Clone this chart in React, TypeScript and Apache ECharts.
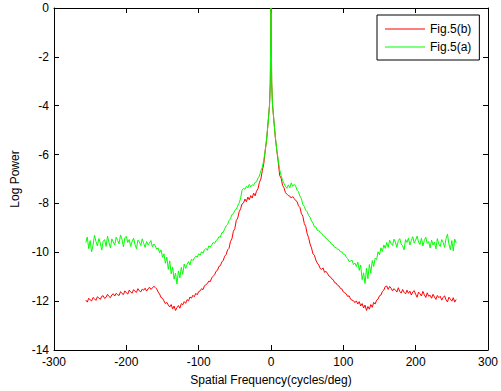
import React, { useEffect, useRef } from "react";
import * as echarts from "echarts";

const seriesNames = ["Fig.5(b)", "Fig.5(a)"];
const xTicks = { min: -300, max: 300, interval: 100 };
const yTicks = { min: -14, max: 0, interval: 2 };

// sample frequencies: -256..-2 step 2, then -1, 0, 1, then 2..256 step 2
const freqLeft: number[] = [];
for (let f = -256; f <= -2; f += 2) freqLeft.push(f);
const freqCenter = [-1, 0, 1];
const freqRight: number[] = [];
for (let f = 2; f <= 256; f += 2) freqRight.push(f);
const frequency = [...freqLeft, ...freqCenter, ...freqRight];

const redLeft = [
  -11.96, -12.04, -11.88, -11.95, -11.99, -11.85, -11.90, -11.97, -11.82, -11.87,
  -11.93, -11.80, -11.78, -11.89, -11.84, -11.72, -11.81, -11.86, -11.74, -11.70,
  -11.79, -11.68, -11.74, -11.77, -11.61, -11.69, -11.73, -11.58, -11.66, -11.71,
  -11.55, -11.63, -11.67, -11.53, -11.60, -11.64, -11.49, -11.58, -11.62, -11.51,
  -11.55, -11.47, -11.59, -11.50, -11.43, -11.52, -11.46, -11.39, -11.44, -11.50,
  -11.63, -11.71, -11.85, -11.88, -11.99, -12.10, -12.05, -12.16, -12.24, -12.14,
  -12.32, -12.20, -12.38, -12.27, -12.18, -12.29, -12.10, -12.15, -12.02, -12.09,
  -11.94, -11.99, -11.83, -11.88, -11.76, -11.82, -11.68, -11.74, -11.61, -11.58,
  -11.49, -11.53, -11.37, -11.33, -11.28, -11.18, -11.20, -11.05, -10.98, -10.92,
  -10.78, -10.74, -10.58, -10.55, -10.40, -10.33, -10.16, -10.09, -9.90, -9.84,
  -9.56, -9.45, -9.14, -9.03, -8.70, -8.60, -8.34, -8.22, -8.02, -7.98,
  -7.82, -7.93, -7.74, -7.85, -7.68, -7.78, -7.58, -7.69, -7.50, -7.40,
  -7.14, -7.00, -6.66, -6.38, -5.82, -5.40, -4.66, -3.96,
];
const redCenter = [-3.10, 0, -3.05];
const redRight = [
  -3.92, -4.62, -5.30, -5.82, -6.30, -6.86, -6.96, -7.26, -7.36, -7.56,
  -7.62, -7.68, -7.70, -7.78, -7.72, -7.80, -7.88, -7.92, -8.10, -8.16,
  -8.42, -8.52, -8.82, -8.94, -9.24, -9.40, -9.66, -9.82, -10.06, -10.12,
  -10.32, -10.44, -10.52, -10.66, -10.70, -10.64, -10.82, -10.78, -10.86, -10.97,
  -11.00, -11.09, -11.12, -11.24, -11.26, -11.35, -11.38, -11.48, -11.50, -11.62,
  -11.66, -11.70, -11.81, -11.78, -11.92, -11.96, -11.98, -12.06, -11.99, -12.12,
  -12.02, -12.20, -12.10, -12.28, -12.16, -12.38, -12.22, -12.33, -12.14, -12.25,
  -12.05, -12.12, -11.96, -11.92, -11.78, -11.75, -11.60, -11.55, -11.40, -11.38,
  -11.52, -11.40, -11.47, -11.58, -11.49, -11.55, -11.63, -11.45, -11.60, -11.67,
  -11.52, -11.64, -11.70, -11.55, -11.68, -11.59, -11.75, -11.62, -11.57, -11.72,
  -11.84, -11.63, -11.70, -11.79, -11.60, -11.74, -11.85, -11.66, -11.80, -11.76,
  -11.88, -11.72, -11.83, -11.93, -11.77, -11.86, -11.80, -11.96, -11.85, -11.78,
  -11.95, -12.03, -11.84, -11.92, -12.00, -11.86, -12.04, -11.93,
];

const greenLeft = [
  -9.60, -9.38, -9.85, -9.52, -9.98, -9.70, -9.30, -9.56, -9.74, -9.44,
  -9.62, -9.91, -9.55, -9.48, -9.76, -9.34, -9.60, -9.82, -9.45, -9.58,
  -9.70, -9.38, -9.52, -9.65, -9.29, -9.47, -9.78, -9.40, -9.35, -9.60,
  -9.48, -9.76, -9.55, -9.42, -9.68, -9.85, -9.50, -9.58, -9.72, -9.45,
  -9.64, -9.80, -9.56, -9.70, -9.62, -9.52, -9.78, -9.66, -9.74, -9.88,
  -9.82, -10.02, -9.90, -10.20, -10.06, -10.45, -10.20, -10.70, -10.35, -10.88,
  -10.60, -11.10, -10.85, -11.30, -10.76, -11.05, -10.62, -10.90, -10.48, -10.66,
  -10.50, -10.38, -10.52, -10.28, -10.34, -10.24, -10.16, -10.20, -10.06, -10.12,
  -9.98, -10.04, -9.90, -9.84, -9.92, -9.74, -9.78, -9.70, -9.60, -9.64,
  -9.52, -9.48, -9.36, -9.38, -9.20, -9.18, -9.04, -8.92, -8.86, -8.70,
  -8.62, -8.46, -8.42, -8.28, -8.24, -8.10, -7.98, -7.78, -7.46, -7.38,
  -7.42, -7.30, -7.36, -7.22, -7.32, -7.24, -7.26, -7.14, -7.12, -6.96,
  -6.88, -6.66, -6.52, -6.22, -5.86, -5.32, -4.72, -3.95,
];
const greenCenter = [-3.10, 0, -3.05];
const greenRight = [
  -3.90, -4.60, -5.28, -5.80, -6.22, -6.62, -6.86, -7.06, -7.18, -7.30,
  -7.38, -7.24, -7.36, -7.16, -7.30, -7.22, -7.28, -7.46, -7.52, -7.70,
  -7.80, -8.04, -8.12, -8.28, -8.34, -8.50, -8.56, -8.72, -8.80, -8.96,
  -8.96, -9.10, -9.10, -9.20, -9.22, -9.32, -9.34, -9.44, -9.46, -9.56,
  -9.58, -9.68, -9.70, -9.80, -9.80, -9.88, -9.88, -9.98, -9.98, -10.08,
  -10.08, -10.20, -10.26, -10.38, -10.36, -10.32, -10.50, -10.44, -10.58, -10.40,
  -10.74, -10.52, -11.12, -10.84, -11.28, -10.66, -11.08, -10.50, -10.86, -10.34,
  -10.58, -10.24, -10.30, -9.98, -10.10, -9.82, -9.96, -9.70, -9.84, -9.60,
  -9.80, -9.50, -9.64, -9.72, -9.46, -9.58, -9.80, -9.52, -9.44, -9.66,
  -9.74, -9.90, -9.48, -9.60, -9.42, -9.70, -9.52, -9.36, -9.62, -9.50,
  -9.34, -9.58, -9.68, -9.42, -9.74, -9.52, -9.38, -9.64, -9.56, -9.82,
  -9.50, -9.70, -9.58, -9.86, -9.44, -9.66, -9.76, -9.48, -9.60, -9.80,
  -9.44, -9.26, -9.66, -9.90, -9.52, -9.94, -9.46, -9.62,
];

const redPower = [...redLeft, ...redCenter, ...redRight];
const greenPower = [...greenLeft, ...greenCenter, ...greenRight];

const FONT = "'Liberation Sans', Arial, sans-serif";

export default function App() {
  const ref = useRef<HTMLDivElement>(null);
  useEffect(() => {
    if (!ref.current) return;
    const chart = echarts.init(ref.current, undefined, { renderer: "svg" });
    const axisCommon = {
      type: "value" as const,
      axisLine: { show: true, onZero: false, lineStyle: { color: "#000", width: 1 } },
      axisTick: { show: true, inside: true, length: 5, lineStyle: { color: "#000" } },
      splitLine: { show: false },
    };
    chart.setOption({
      animation: false,
      backgroundColor: "#fff",
      textStyle: { fontFamily: FONT },
      grid: { left: 54, right: 13, top: 8, bottom: 41, containLabel: false },
      legend: {
        data: seriesNames,
        orient: "vertical",
        left: 377,
        top: 15,
        padding: [7, 8, 6, 8],
        itemGap: 4,
        itemWidth: 40,
        itemHeight: 1,
        icon: "rect",
        borderColor: "#000",
        borderWidth: 1,
        backgroundColor: "#fff",
        textStyle: { fontFamily: FONT, fontSize: 12, color: "#000", lineHeight: 14 },
      },
      xAxis: [
        {
          ...axisCommon,
          position: "bottom",
          min: xTicks.min,
          max: xTicks.max,
          interval: xTicks.interval,
          name: "Spatial Frequency(cycles/deg)",
          nameLocation: "middle",
          nameGap: 24,
          nameTextStyle: { fontFamily: FONT, fontSize: 12, color: "#000" },
          axisLabel: { fontFamily: FONT, fontSize: 12, color: "#000", margin: 6 },
        },
        {
          ...axisCommon,
          position: "top",
          min: xTicks.min,
          max: xTicks.max,
          interval: xTicks.interval,
          axisLabel: { show: false },
        },
      ],
      yAxis: [
        {
          ...axisCommon,
          position: "left",
          min: yTicks.min,
          max: yTicks.max,
          interval: yTicks.interval,
          name: "Log Power",
          nameLocation: "middle",
          nameGap: 31,
          nameRotate: 90,
          nameTextStyle: { fontFamily: FONT, fontSize: 12, color: "#000" },
          axisLabel: { fontFamily: FONT, fontSize: 12, color: "#000", margin: 5 },
        },
        {
          ...axisCommon,
          position: "right",
          min: yTicks.min,
          max: yTicks.max,
          interval: yTicks.interval,
          axisLabel: { show: false },
        },
      ],
      series: [
        {
          name: seriesNames[0],
          type: "line",
          xAxisIndex: 0,
          yAxisIndex: 0,
          data: frequency.map((f, i) => [f, redPower[i]]),
          showSymbol: false,
          symbol: "none",
          lineStyle: { color: "#ff0000", width: 1 },
          itemStyle: { color: "#ff0000" },
        },
        {
          name: seriesNames[1],
          type: "line",
          xAxisIndex: 0,
          yAxisIndex: 0,
          data: frequency.map((f, i) => [f, greenPower[i]]),
          showSymbol: false,
          symbol: "none",
          lineStyle: { color: "#00ff00", width: 1 },
          itemStyle: { color: "#00ff00" },
        },
      ],
    });
    return () => chart.dispose();
  }, []);
  return (
    <div
      ref={ref}
      style={{ position: "fixed", left: 0, top: 0, width: 501, height: 391, background: "#fff" }}
    />
  );
}
